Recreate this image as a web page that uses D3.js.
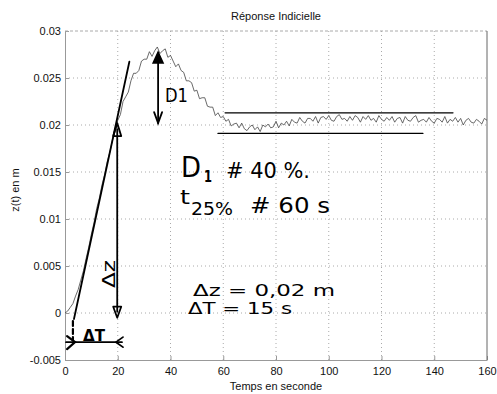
<!DOCTYPE html>
<html>
<head>
<meta charset="utf-8">
<script src="https://cdn.jsdelivr.net/npm/d3@7"></script>
<style>
  body { margin: 0; background: #fff; }
  svg { display: block; }
  .tick text { font-family: "Liberation Sans", Arial, sans-serif; font-size: 11px; fill: #111; }
  .hand { font-family: "DejaVu Sans", sans-serif; fill: #000; }
</style>
</head>
<body>
<svg width="497" height="394"></svg>
<script>
// step response z(t), one sample per second
const sampleStep = 1
const zValues = [
  0.0000, 0.0002, 0.0006, 0.0010, 0.0018, 0.0025, 0.0035, 0.0045, 0.0058, 0.0070,
  0.0084, 0.0096, 0.0111, 0.0122, 0.0136, 0.0147, 0.0161, 0.0171, 0.0184, 0.0193,
  0.0205, 0.0211, 0.0225, 0.0230, 0.0235, 0.0247, 0.0255, 0.0255, 0.0258, 0.0268,
  0.0270, 0.0270, 0.0278, 0.0273, 0.0279, 0.0283, 0.0276, 0.0279, 0.0281, 0.0272,
  0.0274, 0.0268, 0.0262, 0.0265, 0.0258, 0.0256, 0.0247, 0.0247, 0.0245, 0.0236,
  0.0237, 0.0228, 0.0229, 0.0229, 0.0220, 0.0219, 0.0219, 0.0210, 0.0213, 0.0208,
  0.0209, 0.0204, 0.0206, 0.0199, 0.0201, 0.0202, 0.0197, 0.0202, 0.0196, 0.0194,
  0.0198, 0.0200, 0.0195, 0.0198, 0.0193, 0.0200, 0.0198, 0.0201, 0.0197, 0.0198,
  0.0204, 0.0197, 0.0202, 0.0200, 0.0204, 0.0199, 0.0206, 0.0203, 0.0202, 0.0208,
  0.0204, 0.0202, 0.0207, 0.0207, 0.0204, 0.0209, 0.0202, 0.0208, 0.0209, 0.0206,
  0.0210, 0.0205, 0.0204, 0.0209, 0.0211, 0.0206, 0.0207, 0.0204, 0.0209, 0.0205,
  0.0210, 0.0208, 0.0203, 0.0209, 0.0206, 0.0210, 0.0205, 0.0207, 0.0203, 0.0210,
  0.0206, 0.0204, 0.0208, 0.0205, 0.0209, 0.0203, 0.0207, 0.0208, 0.0202, 0.0209,
  0.0205, 0.0204, 0.0208, 0.0210, 0.0203, 0.0205, 0.0206, 0.0203, 0.0208, 0.0204,
  0.0202, 0.0207, 0.0206, 0.0203, 0.0209, 0.0202, 0.0206, 0.0204, 0.0208, 0.0203,
  0.0207, 0.0200, 0.0205, 0.0207, 0.0203, 0.0202, 0.0206, 0.0204, 0.0201, 0.0207,
  0.0205
]

const xTicks = [0, 20, 40, 60, 80, 100, 120, 140, 160]
const yTicks = [-0.005, 0, 0.005, 0.01, 0.015, 0.02, 0.025, 0.03]
const yTickLabels = ['-0.005', '0', '0.005', '0.01', '0.015', '0.02', '0.025', '0.03']

// hand drawn construction, in data units (t in s, z in m)
const tangent = [[3.4, -0.00064], [24.4, 0.02673]]
const dzArrow = {t: 19.8, top: 0.0202, bottom: -0.0005}
const d1Arrow = {t: 35.3, top: 0.02777, bottom: 0.0202}
const dtArrow = {z: -0.0031, from: 0.4, to: 21.6, dash: 3.0}
const bandLines = [
  {z: 0.0213, from: 60.7, to: 147.1},
  {z: 0.0191, from: 58.0, to: 135.7}
]

const width = 497
const height = 394
const margin = {top: 31, right: 10, bottom: 34, left: 65}

const x = d3.scaleLinear().domain([0, 160]).range([margin.left, width - margin.right])
const y = d3.scaleLinear().domain([-0.005, 0.03]).range([height - margin.bottom, margin.top])

const svg = d3.select('svg')

// dotted grid
const grid = svg.append('g').attr('stroke', '#aaa').attr('stroke-width', 1).attr('stroke-dasharray', '1,3')
grid.selectAll('line.gx').data(xTicks.slice(1, -1)).join('line')
  .attr('x1', d => x(d)).attr('x2', d => x(d))
  .attr('y1', y(-0.005)).attr('y2', y(0.03))
grid.selectAll('line.gy').data(yTicks.slice(1, -1)).join('line')
  .attr('class', 'gy')
  .attr('x1', x(0)).attr('x2', x(160))
  .attr('y1', d => y(d)).attr('y2', d => y(d))

const xAxis = g => g
  .attr('transform', `translate(0, ${y(-0.005)})`)
  .call(d3.axisBottom(x).tickValues(xTicks).tickSizeInner(-4).tickSizeOuter(0).tickPadding(7))
  .call(g => g.selectAll('.domain, .tick line').attr('stroke', '#999'))

const yAxis = g => g
  .attr('transform', `translate(${x(0)}, 0)`)
  .call(d3.axisLeft(y).tickValues(yTicks).tickFormat((d, i) => yTickLabels[i])
    .tickSizeInner(-4).tickSizeOuter(0).tickPadding(4))
  .call(g => g.selectAll('.domain, .tick line').attr('stroke', '#999'))

svg.append('g').attr('class', 'x-axis').call(xAxis)
svg.append('g').attr('class', 'y-axis').call(yAxis)

// top and right of the box
svg.append('line').attr('x1', x(0)).attr('x2', x(160)).attr('y1', y(0.03)).attr('y2', y(0.03))
  .attr('stroke', '#aaa').attr('stroke-dasharray', '3,2')
svg.append('line').attr('x1', x(160)).attr('x2', x(160)).attr('y1', y(0.03)).attr('y2', y(-0.005))
  .attr('stroke', '#666')

// response curve
const line = d3.line().x((d, i) => x(i * sampleStep)).y(d => y(d))
svg.append('path').datum(zValues)
  .attr('fill', 'none').attr('stroke', '#444').attr('stroke-width', 0.8)
  .attr('d', line)

// labels
const label = (txt, px, py, rot) => svg.append('text')
  .attr('x', px).attr('y', py).attr('text-anchor', 'middle')
  .attr('transform', rot ? `rotate(-90, ${px}, ${py})` : null)
  .attr('font-family', '"Liberation Sans", Arial, sans-serif').attr('font-size', 11).attr('fill', '#111')
  .text(txt)
label('Réponse Indicielle', 276, 20)
label('Temps en seconde', 276, 390)
label('z(t) en m', 19, 190, true)

// hand annotations
const ink = svg.append('g').attr('stroke', '#000').attr('fill', 'none').attr('stroke-linecap', 'round')

ink.append('line')
  .attr('x1', x(tangent[0][0])).attr('y1', y(tangent[0][1]))
  .attr('x2', x(tangent[1][0])).attr('y2', y(tangent[1][1]))
  .attr('stroke-width', 1.8)

// dz arrow
const dzx = x(dzArrow.t)
ink.append('line').attr('x1', dzx).attr('x2', dzx)
  .attr('y1', y(dzArrow.top) + 6).attr('y2', y(dzArrow.bottom) - 6).attr('stroke-width', 1.8)
ink.append('path').attr('stroke-width', 1.8).attr('stroke-linejoin', 'round')
  .attr('d', `M${dzx},${y(dzArrow.top)} L${dzx - 4},${y(dzArrow.top) + 13} L${dzx + 4},${y(dzArrow.top) + 13} Z`)
ink.append('path').attr('stroke-width', 1.8).attr('stroke-linejoin', 'round')
  .attr('d', `M${dzx},${y(dzArrow.bottom)} L${dzx - 4},${y(dzArrow.bottom) - 11} L${dzx + 4},${y(dzArrow.bottom) - 11} Z`)

// D1 arrow
const d1x = x(d1Arrow.t)
ink.append('line').attr('x1', d1x).attr('x2', d1x)
  .attr('y1', y(d1Arrow.top) + 4).attr('y2', y(d1Arrow.bottom)).attr('stroke-width', 1.8)
ink.append('path').attr('fill', '#000').attr('stroke-width', 1.5)
  .attr('d', `M${d1x},${y(d1Arrow.top)} L${d1x - 5},${y(d1Arrow.top) + 11} L${d1x + 5},${y(d1Arrow.top) + 11} Z`)
ink.append('path').attr('stroke-width', 1.8)
  .attr('d', `M${d1x - 4},${y(d1Arrow.bottom) - 11} L${d1x},${y(d1Arrow.bottom)} L${d1x + 4},${y(d1Arrow.bottom) - 11}`)

// dT arrow
const dty = y(dtArrow.z)
ink.append('line').attr('x1', x(dtArrow.dash)).attr('x2', x(dtArrow.dash))
  .attr('y1', y(tangent[0][1]) + 2).attr('y2', dty - 2)
  .attr('stroke-width', 2.2).attr('stroke-dasharray', '5,3')
ink.append('line').attr('x1', x(dtArrow.from)).attr('x2', x(dtArrow.to))
  .attr('y1', dty).attr('y2', dty).attr('stroke-width', 1.8)
const lx = x(dtArrow.from) + 9
ink.append('path').attr('stroke-width', 2.2)
  .attr('d', `M${lx - 8},${dty - 6} L${lx},${dty} L${lx - 8},${dty + 7}`)
const rx = x(dtArrow.to) - 6
ink.append('path').attr('stroke-width', 1.8)
  .attr('d', `M${rx + 7},${dty - 5} L${rx},${dty} L${rx + 7},${dty + 5}`)

// band lines
ink.selectAll('line.band').data(bandLines).join('line')
  .attr('class', 'band')
  .attr('x1', d => x(d.from)).attr('x2', d => x(d.to))
  .attr('y1', d => y(d.z)).attr('y2', d => y(d.z))
  .attr('stroke-width', 1.3)

// handwritten text
const hand = (txt, px, py, size, len, rot) => {
  const t = svg.append('text').attr('class', 'hand')
    .attr('x', px).attr('y', py).attr('font-size', size)
    .text(txt)
  if (len) t.attr('textLength', len).attr('lengthAdjust', 'spacingAndGlyphs')
  if (rot) t.attr('transform', `rotate(-90, ${px}, ${py})`)
  return t
}
hand('D1', 165, 102, 19, 23)
hand('Δz', 115, 288, 17, 28, true)
hand('ΔT', 83, 341, 16, 22).attr('font-weight', 'bold')

hand('D', 181, 177, 29, 20)
hand('1', 204, 182, 15, 8).attr('font-weight', 'bold')
hand('# 40 %.', 226, 178, 21, 84)

hand('t', 180, 204, 20, 10)
hand('25%', 191, 215, 17, 42)
hand('# 60 s', 250, 213, 21, 80)

hand('Δz = 0,02 m', 193, 296, 16, 142)
hand('ΔT = 15 s', 188, 314, 16, 104)
</script>
</body>
</html>
